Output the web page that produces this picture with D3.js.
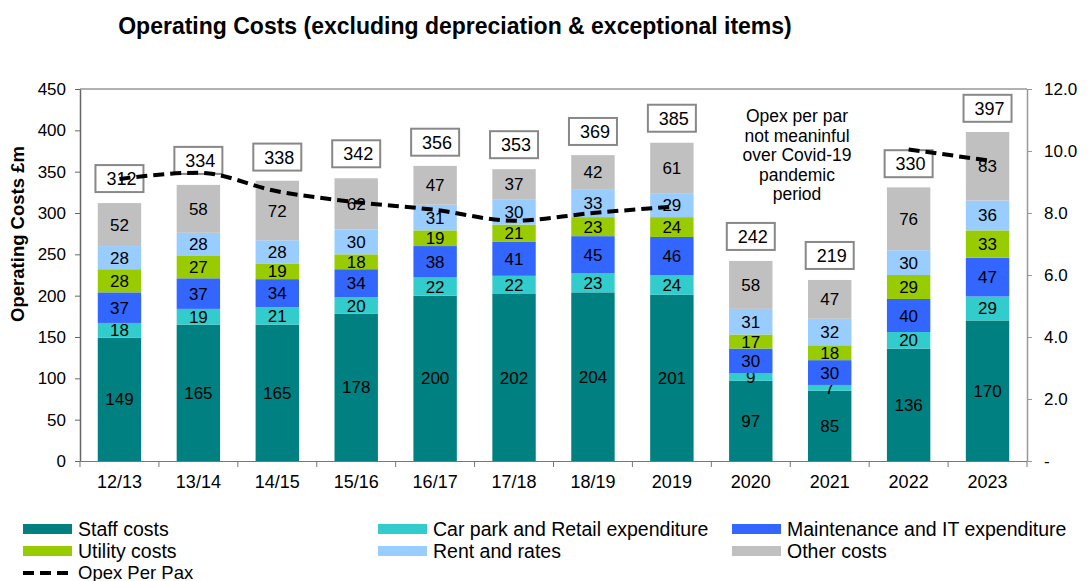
<!DOCTYPE html>
<html>
<head>
<meta charset="utf-8">
<script src="https://cdn.jsdelivr.net/npm/d3@7"></script>
<style>
body { margin: 0; background: #fff; }
svg text { font-family: "Liberation Sans", Arial, sans-serif; }
</style>
</head>
<body>
<script>
var years = ["12/13", "13/14", "14/15", "15/16", "16/17", "17/18", "18/19", "2019", "2020", "2021", "2022", "2023"];
var staff = [149, 165, 165, 178, 200, 202, 204, 201, 97, 85, 136, 170];
var carPark = [18, 19, 21, 20, 22, 22, 23, 24, 9, 7, 20, 29];
var maint = [37, 37, 34, 34, 38, 41, 45, 46, 30, 30, 40, 47];
var utility = [28, 27, 19, 18, 19, 21, 23, 24, 17, 18, 29, 33];
var rent = [28, 28, 28, 30, 31, 30, 33, 29, 31, 32, 30, 36];
var other = [52, 58, 72, 62, 47, 37, 42, 61, 58, 47, 76, 83];
var totals = [312, 334, 338, 342, 356, 353, 369, 385, 242, 219, 330, 397];
var opexPerPax = [9.1, 9.3, 8.7, 8.35, 8.1, 7.75, 8.0, 8.2, null, null, 10.05, 9.7];
var leftTicks = [0, 50, 100, 150, 200, 250, 300, 350, 400, 450];
var rightTicks = [0, 2, 4, 6, 8, 10, 12];

var series = [
    { name: "Staff costs", values: staff, color: "#008080" },
    { name: "Car park and Retail expenditure", values: carPark, color: "#33CCCC" },
    { name: "Maintenance and IT expenditure", values: maint, color: "#3366FF" },
    { name: "Utility costs", values: utility, color: "#99CC00" },
    { name: "Rent and rates", values: rent, color: "#99CCFF" },
    { name: "Other costs", values: other, color: "#C0C0C0" }
];

var W = 1089, H = 581;
var pLeft = 80, pRight = 1027, pTop = 89, pBottom = 461;

var svg = d3.select("body").append("svg").attr("width", W).attr("height", H);

var x = d3.scaleBand().domain(years).range([pLeft, pRight]).paddingInner(0.45).paddingOuter(0.225);
var y = d3.scaleLinear().domain([0, 450]).range([pBottom, pTop]);
var y2 = d3.scaleLinear().domain([0, 12]).range([pBottom, pTop]);

// title
svg.append("text")
    .attr("x", 455).attr("y", 34)
    .attr("text-anchor", "middle")
    .style("font-size", "23px").style("font-weight", "bold")
    .text("Operating Costs (excluding depreciation & exceptional items)");

// frame top
svg.append("line").attr("x1", pLeft).attr("x2", pRight).attr("y1", pTop).attr("y2", pTop)
    .attr("stroke", "#999").attr("stroke-width", 1.5);

// stacked bars
var rows = years.map(function(yr, i) {
    var r = { year: yr };
    series.forEach(function(s) { r[s.name] = s.values[i]; });
    return r;
});
var stack = d3.stack().keys(series.map(function(s) { return s.name; }))(rows);

stack.forEach(function(layer, k) {
    var g = svg.append("g");
    g.selectAll("rect").data(layer).enter().append("rect")
        .attr("x", function(d) { return x(d.data.year); })
        .attr("width", x.bandwidth())
        .attr("y", function(d) { return y(d[1]); })
        .attr("height", function(d) { return y(d[0]) - y(d[1]); })
        .attr("fill", series[k].color);
    g.selectAll("text").data(layer).enter().append("text")
        .attr("x", function(d) { return x(d.data.year) + x.bandwidth() / 2; })
        .attr("y", function(d) { return (y(d[0]) + y(d[1])) / 2 + 6; })
        .attr("text-anchor", "middle")
        .style("font-size", "17px")
        .text(function(d) { return d[1] - d[0]; });
});

// axes
var xAxis = svg.append("g").attr("transform", "translate(0," + pBottom + ")")
    .call(d3.axisBottom(x).tickSize(0).tickPadding(14));
xAxis.select(".domain").attr("stroke", "#777");
xAxis.selectAll("text").style("font-size", "18px").style("fill", "#000");
svg.append("g").selectAll("line").data(d3.range(years.length + 1)).enter().append("line")
    .attr("x1", function(i) { return pLeft + i * (pRight - pLeft) / years.length; })
    .attr("x2", function(i) { return pLeft + i * (pRight - pLeft) / years.length; })
    .attr("y1", pBottom).attr("y2", pBottom + 6)
    .attr("stroke", "#777");

var yAxis = svg.append("g").attr("transform", "translate(" + pLeft + ",0)")
    .call(d3.axisLeft(y).tickValues(leftTicks).tickSize(5).tickSizeOuter(0).tickPadding(9));
yAxis.select(".domain").attr("stroke", "#666").attr("stroke-width", 1.5);
yAxis.selectAll("line").attr("stroke", "#666");
yAxis.selectAll("text").style("font-size", "17px").style("fill", "#000");

var yAxis2 = svg.append("g").attr("transform", "translate(" + pRight + ",0)")
    .call(d3.axisRight(y2).tickValues(rightTicks).tickSize(5).tickSizeOuter(0).tickPadding(12)
        .tickFormat(function(d) { return d === 0 ? "-" : d3.format(".1f")(d); }));
yAxis2.select(".domain").attr("stroke", "#999").attr("stroke-width", 1.5);
yAxis2.selectAll("line").attr("stroke", "#999");
yAxis2.selectAll("text").style("font-size", "17px").style("fill", "#000");

svg.append("text")
    .attr("transform", "translate(24,234) rotate(-90)")
    .attr("text-anchor", "middle")
    .style("font-size", "18.5px").style("font-weight", "bold")
    .text("Operating Costs £m");

// total boxes
var tg = svg.append("g");
years.forEach(function(yr, i) {
    var cx = x(yr) + x.bandwidth() / 2;
    var by = y(totals[i]) - 11;
    tg.append("rect")
        .attr("x", cx - 24).attr("y", by - 27).attr("width", 48).attr("height", 27)
        .attr("fill", "#fff").attr("stroke", "#888").attr("stroke-width", 2);
    tg.append("text")
        .attr("x", cx + 2).attr("y", by - 7)
        .attr("text-anchor", "middle")
        .style("font-size", "18px")
        .text(totals[i]);
});

// opex per pax line
var line = d3.line()
    .defined(function(d) { return d != null; })
    .x(function(d, i) { return x(years[i]) + x.bandwidth() / 2; })
    .y(function(d) { return y2(d); })
    .curve(d3.curveMonotoneX);
svg.append("path").datum(opexPerPax)
    .attr("d", line)
    .attr("fill", "none").attr("stroke", "#000")
    .attr("stroke-width", 4).attr("stroke-dasharray", "11,6");

// annotation
var note = ["Opex per par", "not meaninful", "over Covid-19", "pandemic", "period"];
svg.append("g").selectAll("text").data(note).enter().append("text")
    .attr("x", 797).attr("y", function(d, i) { return 122 + i * 19.5; })
    .attr("text-anchor", "middle")
    .style("font-size", "17.5px")
    .text(function(d) { return d; });

// legend
var legendPos = [[23, 529], [378, 529], [732, 529], [23, 551], [378, 551], [732, 551]];
series.forEach(function(s, i) {
    var p = legendPos[i];
    svg.append("rect").attr("x", p[0]).attr("y", p[1] - 5).attr("width", 49).attr("height", 10)
        .attr("fill", s.color);
    svg.append("text").attr("x", p[0] + 55).attr("y", p[1] + 7)
        .style("font-size", "19.5px").text(s.name);
});
svg.append("line").attr("x1", 23).attr("x2", 72).attr("y1", 573).attr("y2", 573)
    .attr("stroke", "#000").attr("stroke-width", 4).attr("stroke-dasharray", "11,6");
svg.append("text").attr("x", 78).attr("y", 579).style("font-size", "18.5px").text("Opex Per Pax");
</script>
</body>
</html>
